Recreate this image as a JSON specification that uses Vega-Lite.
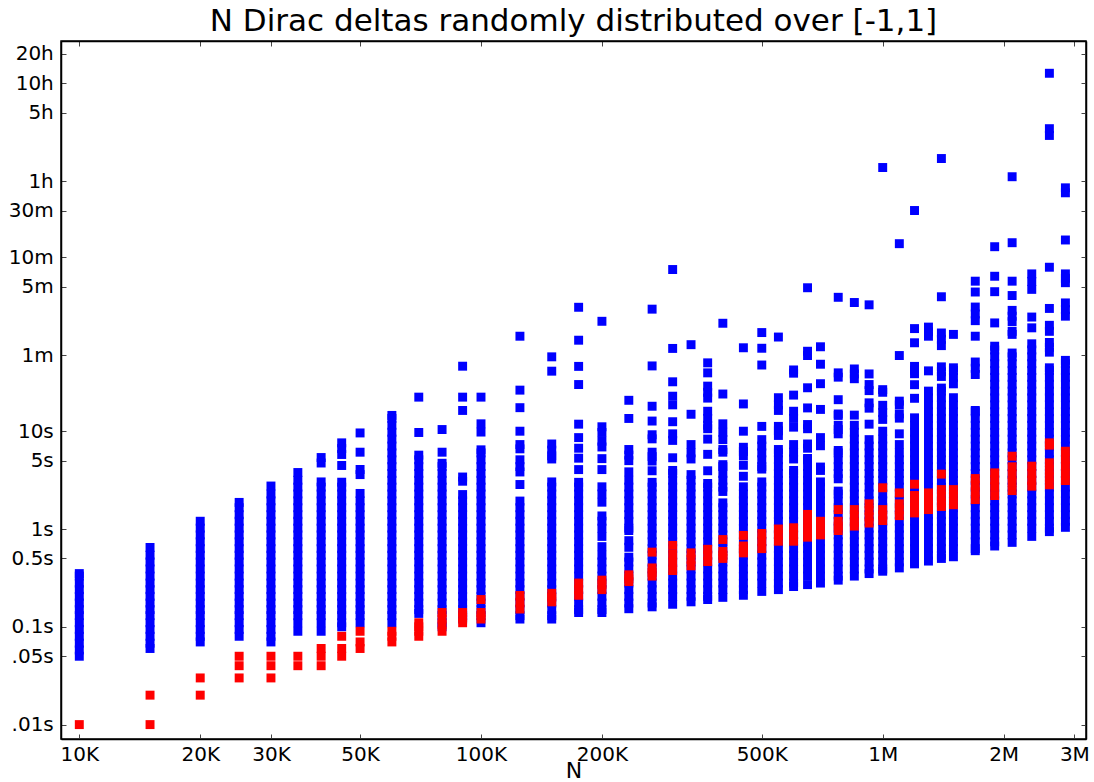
{
"$schema": "https://vega.github.io/schema/vega-lite/v6.json",
"width": 1025, "height": 698,
"autosize": "none",
"padding": {"left": 61, "top": 41, "right": 8, "bottom": 43},
"background": "white",
"title": {"text": "N Dirac deltas randomly distributed over [-1,1]", "font": "DejaVu Sans", "fontSize": 31, "fontWeight": "normal", "color": "black", "anchor": "middle", "frame": "group", "baseline": "alphabetic", "offset": -21},
"config": {"view": {"stroke": "black", "strokeWidth": 1.5}},
"datasets": {
"blue": [
{"N":10000,"t":0.05},{"N":10000,"t":0.058},{"N":10000,"t":0.068},{"N":10000,"t":0.08},{"N":10000,"t":0.094},{"N":10000,"t":0.11},{"N":10000,"t":0.13},{"N":10000,"t":0.15},{"N":10000,"t":0.175},{"N":10000,"t":0.205},{"N":10000,"t":0.24},{"N":10000,"t":0.28},{"N":10000,"t":0.33},{"N":10000,"t":0.35},
{"N":15000,"t":0.06},{"N":15000,"t":0.068},{"N":15000,"t":0.08},{"N":15000,"t":0.094},{"N":15000,"t":0.11},{"N":15000,"t":0.13},{"N":15000,"t":0.15},{"N":15000,"t":0.175},{"N":15000,"t":0.205},{"N":15000,"t":0.24},{"N":15000,"t":0.28},{"N":15000,"t":0.33},{"N":15000,"t":0.39},{"N":15000,"t":0.46},{"N":15000,"t":0.54},{"N":15000,"t":0.647},
{"N":20000,"t":0.07},{"N":20000,"t":0.08},{"N":20000,"t":0.094},{"N":20000,"t":0.11},{"N":20000,"t":0.13},{"N":20000,"t":0.15},{"N":20000,"t":0.175},{"N":20000,"t":0.205},{"N":20000,"t":0.24},{"N":20000,"t":0.28},{"N":20000,"t":0.33},{"N":20000,"t":0.39},{"N":20000,"t":0.46},{"N":20000,"t":0.54},{"N":20000,"t":0.63},{"N":20000,"t":0.74},{"N":20000,"t":0.87},{"N":20000,"t":1.02},{"N":20000,"t":1.2},
{"N":25000,"t":0.08},{"N":25000,"t":0.094},{"N":25000,"t":0.11},{"N":25000,"t":0.13},{"N":25000,"t":0.15},{"N":25000,"t":0.175},{"N":25000,"t":0.205},{"N":25000,"t":0.24},{"N":25000,"t":0.28},{"N":25000,"t":0.33},{"N":25000,"t":0.39},{"N":25000,"t":0.46},{"N":25000,"t":0.54},{"N":25000,"t":0.63},{"N":25000,"t":0.74},{"N":25000,"t":0.87},{"N":25000,"t":1.02},{"N":25000,"t":1.2},{"N":25000,"t":1.4},{"N":25000,"t":1.65},{"N":25000,"t":1.87},
{"N":30000,"t":0.07},{"N":30000,"t":0.08},{"N":30000,"t":0.094},{"N":30000,"t":0.11},{"N":30000,"t":0.13},{"N":30000,"t":0.15},{"N":30000,"t":0.175},{"N":30000,"t":0.205},{"N":30000,"t":0.24},{"N":30000,"t":0.28},{"N":30000,"t":0.33},{"N":30000,"t":0.39},{"N":30000,"t":0.46},{"N":30000,"t":0.54},{"N":30000,"t":0.63},{"N":30000,"t":0.74},{"N":30000,"t":0.87},{"N":30000,"t":1.02},{"N":30000,"t":1.2},{"N":30000,"t":1.4},{"N":30000,"t":1.65},{"N":30000,"t":1.94},{"N":30000,"t":2.28},{"N":30000,"t":2.75},
{"N":35000,"t":0.09},{"N":35000,"t":0.11},{"N":35000,"t":0.13},{"N":35000,"t":0.15},{"N":35000,"t":0.175},{"N":35000,"t":0.205},{"N":35000,"t":0.24},{"N":35000,"t":0.28},{"N":35000,"t":0.33},{"N":35000,"t":0.39},{"N":35000,"t":0.46},{"N":35000,"t":0.54},{"N":35000,"t":0.63},{"N":35000,"t":0.74},{"N":35000,"t":0.87},{"N":35000,"t":1.02},{"N":35000,"t":1.2},{"N":35000,"t":1.4},{"N":35000,"t":1.65},{"N":35000,"t":1.94},{"N":35000,"t":2.28},{"N":35000,"t":2.68},{"N":35000,"t":3.15},{"N":35000,"t":3.78},
{"N":40000,"t":5.38},{"N":40000,"t":4.73},{"N":40000,"t":0.09},{"N":40000,"t":0.11},{"N":40000,"t":0.13},{"N":40000,"t":0.15},{"N":40000,"t":0.175},{"N":40000,"t":0.205},{"N":40000,"t":0.24},{"N":40000,"t":0.28},{"N":40000,"t":0.33},{"N":40000,"t":0.39},{"N":40000,"t":0.46},{"N":40000,"t":0.54},{"N":40000,"t":0.63},{"N":40000,"t":0.74},{"N":40000,"t":0.87},{"N":40000,"t":1.02},{"N":40000,"t":1.2},{"N":40000,"t":1.4},{"N":40000,"t":1.65},{"N":40000,"t":1.94},{"N":40000,"t":2.28},{"N":40000,"t":2.68},{"N":40000,"t":3.03},
{"N":45000,"t":7.6},{"N":45000,"t":6.64},{"N":45000,"t":5.78},{"N":45000,"t":4.46},{"N":45000,"t":0.1},{"N":45000,"t":0.11},{"N":45000,"t":0.13},{"N":45000,"t":0.15},{"N":45000,"t":0.175},{"N":45000,"t":0.205},{"N":45000,"t":0.24},{"N":45000,"t":0.28},{"N":45000,"t":0.33},{"N":45000,"t":0.39},{"N":45000,"t":0.46},{"N":45000,"t":0.54},{"N":45000,"t":0.63},{"N":45000,"t":0.74},{"N":45000,"t":0.87},{"N":45000,"t":1.02},{"N":45000,"t":1.2},{"N":45000,"t":1.4},{"N":45000,"t":1.65},{"N":45000,"t":1.94},{"N":45000,"t":2.28},{"N":45000,"t":2.68},{"N":45000,"t":3.01},
{"N":50000,"t":9.6},{"N":50000,"t":6.1},{"N":50000,"t":4.06},{"N":50000,"t":3.6},{"N":50000,"t":0.11},{"N":50000,"t":0.13},{"N":50000,"t":0.15},{"N":50000,"t":0.175},{"N":50000,"t":0.205},{"N":50000,"t":0.24},{"N":50000,"t":0.28},{"N":50000,"t":0.33},{"N":50000,"t":0.39},{"N":50000,"t":0.46},{"N":50000,"t":0.54},{"N":50000,"t":0.63},{"N":50000,"t":0.74},{"N":50000,"t":0.87},{"N":50000,"t":1.02},{"N":50000,"t":1.2},{"N":50000,"t":1.4},{"N":50000,"t":1.65},{"N":50000,"t":1.94},{"N":50000,"t":2.31},
{"N":60000,"t":0.11},{"N":60000,"t":0.13},{"N":60000,"t":0.15},{"N":60000,"t":0.175},{"N":60000,"t":0.205},{"N":60000,"t":0.24},{"N":60000,"t":0.28},{"N":60000,"t":0.33},{"N":60000,"t":0.39},{"N":60000,"t":0.46},{"N":60000,"t":0.54},{"N":60000,"t":0.63},{"N":60000,"t":0.74},{"N":60000,"t":0.87},{"N":60000,"t":1.02},{"N":60000,"t":1.2},{"N":60000,"t":1.4},{"N":60000,"t":1.65},{"N":60000,"t":1.94},{"N":60000,"t":2.28},{"N":60000,"t":2.68},{"N":60000,"t":3.15},{"N":60000,"t":3.7},{"N":60000,"t":4.35},{"N":60000,"t":5.1},{"N":60000,"t":6.0},{"N":60000,"t":7.05},{"N":60000,"t":8.3},{"N":60000,"t":9.75},{"N":60000,"t":11.5},{"N":60000,"t":13.5},{"N":60000,"t":14.5},
{"N":70000,"t":22.3},{"N":70000,"t":9.7},{"N":70000,"t":0.137},{"N":70000,"t":0.15},{"N":70000,"t":0.175},{"N":70000,"t":0.205},{"N":70000,"t":0.24},{"N":70000,"t":0.28},{"N":70000,"t":0.33},{"N":70000,"t":0.39},{"N":70000,"t":0.46},{"N":70000,"t":0.54},{"N":70000,"t":0.63},{"N":70000,"t":0.74},{"N":70000,"t":0.87},{"N":70000,"t":1.02},{"N":70000,"t":1.2},{"N":70000,"t":1.4},{"N":70000,"t":1.65},{"N":70000,"t":1.94},{"N":70000,"t":2.28},{"N":70000,"t":2.68},{"N":70000,"t":3.15},{"N":70000,"t":3.7},{"N":70000,"t":4.35},{"N":70000,"t":5.1},{"N":70000,"t":5.69},
{"N":80000,"t":10.4},{"N":80000,"t":6.1},{"N":80000,"t":0.1},{"N":80000,"t":0.11},{"N":80000,"t":0.13},{"N":80000,"t":0.15},{"N":80000,"t":0.175},{"N":80000,"t":0.205},{"N":80000,"t":0.24},{"N":80000,"t":0.28},{"N":80000,"t":0.33},{"N":80000,"t":0.39},{"N":80000,"t":0.46},{"N":80000,"t":0.54},{"N":80000,"t":0.63},{"N":80000,"t":0.74},{"N":80000,"t":0.87},{"N":80000,"t":1.02},{"N":80000,"t":1.2},{"N":80000,"t":1.4},{"N":80000,"t":1.65},{"N":80000,"t":1.94},{"N":80000,"t":2.28},{"N":80000,"t":2.68},{"N":80000,"t":3.15},{"N":80000,"t":3.7},{"N":80000,"t":4.35},{"N":80000,"t":4.7},
{"N":90000,"t":46.2},{"N":90000,"t":22.3},{"N":90000,"t":16.3},{"N":90000,"t":3.4},{"N":90000,"t":3.08},{"N":90000,"t":0.12},{"N":90000,"t":0.13},{"N":90000,"t":0.15},{"N":90000,"t":0.175},{"N":90000,"t":0.205},{"N":90000,"t":0.24},{"N":90000,"t":0.28},{"N":90000,"t":0.33},{"N":90000,"t":0.39},{"N":90000,"t":0.46},{"N":90000,"t":0.54},{"N":90000,"t":0.63},{"N":90000,"t":0.74},{"N":90000,"t":0.87},{"N":90000,"t":1.02},{"N":90000,"t":1.2},{"N":90000,"t":1.4},{"N":90000,"t":1.65},{"N":90000,"t":1.94},{"N":90000,"t":2.25},
{"N":100000,"t":22.3},{"N":100000,"t":11.9},{"N":100000,"t":9.8},{"N":100000,"t":0.11},{"N":100000,"t":0.13},{"N":100000,"t":0.15},{"N":100000,"t":0.175},{"N":100000,"t":0.205},{"N":100000,"t":0.24},{"N":100000,"t":0.28},{"N":100000,"t":0.33},{"N":100000,"t":0.39},{"N":100000,"t":0.46},{"N":100000,"t":0.54},{"N":100000,"t":0.63},{"N":100000,"t":0.74},{"N":100000,"t":0.87},{"N":100000,"t":1.02},{"N":100000,"t":1.2},{"N":100000,"t":1.4},{"N":100000,"t":1.65},{"N":100000,"t":1.94},{"N":100000,"t":2.28},{"N":100000,"t":2.68},{"N":100000,"t":3.15},{"N":100000,"t":3.7},{"N":100000,"t":4.35},{"N":100000,"t":5.1},{"N":100000,"t":6.0},{"N":100000,"t":6.45},
{"N":125000,"t":93.6},{"N":125000,"t":26.3},{"N":125000,"t":17.4},{"N":125000,"t":10.0},{"N":125000,"t":7.3},{"N":125000,"t":6.6},{"N":125000,"t":5.1},{"N":125000,"t":4.35},{"N":125000,"t":3.83},{"N":125000,"t":2.85},{"N":125000,"t":0.12},{"N":125000,"t":0.13},{"N":125000,"t":0.15},{"N":125000,"t":0.175},{"N":125000,"t":0.205},{"N":125000,"t":0.24},{"N":125000,"t":0.28},{"N":125000,"t":0.33},{"N":125000,"t":0.39},{"N":125000,"t":0.46},{"N":125000,"t":0.54},{"N":125000,"t":0.63},{"N":125000,"t":0.74},{"N":125000,"t":0.87},{"N":125000,"t":1.02},{"N":125000,"t":1.2},{"N":125000,"t":1.4},{"N":125000,"t":1.65},{"N":125000,"t":1.93},
{"N":150000,"t":57.6},{"N":150000,"t":41.1},{"N":150000,"t":7.4},{"N":150000,"t":6.4},{"N":150000,"t":5.6},{"N":150000,"t":5.2},{"N":150000,"t":0.12},{"N":150000,"t":0.13},{"N":150000,"t":0.15},{"N":150000,"t":0.175},{"N":150000,"t":0.205},{"N":150000,"t":0.24},{"N":150000,"t":0.28},{"N":150000,"t":0.33},{"N":150000,"t":0.39},{"N":150000,"t":0.46},{"N":150000,"t":0.54},{"N":150000,"t":0.63},{"N":150000,"t":0.74},{"N":150000,"t":0.87},{"N":150000,"t":1.02},{"N":150000,"t":1.2},{"N":150000,"t":1.4},{"N":150000,"t":1.65},{"N":150000,"t":1.94},{"N":150000,"t":2.28},{"N":150000,"t":2.68},{"N":150000,"t":3.03},
{"N":175000,"t":185},{"N":175000,"t":85.2},{"N":175000,"t":46},{"N":175000,"t":30},{"N":175000,"t":11.8},{"N":175000,"t":8.6},{"N":175000,"t":6.7},{"N":175000,"t":5.3},{"N":175000,"t":4.05},{"N":175000,"t":0.14},{"N":175000,"t":0.15},{"N":175000,"t":0.175},{"N":175000,"t":0.205},{"N":175000,"t":0.24},{"N":175000,"t":0.28},{"N":175000,"t":0.33},{"N":175000,"t":0.39},{"N":175000,"t":0.46},{"N":175000,"t":0.54},{"N":175000,"t":0.63},{"N":175000,"t":0.74},{"N":175000,"t":0.87},{"N":175000,"t":1.02},{"N":175000,"t":1.2},{"N":175000,"t":1.4},{"N":175000,"t":1.65},{"N":175000,"t":1.94},{"N":175000,"t":2.28},{"N":175000,"t":2.68},{"N":175000,"t":3.0},
{"N":200000,"t":133},{"N":200000,"t":11.1},{"N":200000,"t":9.7},{"N":200000,"t":7.9},{"N":200000,"t":6.9},{"N":200000,"t":5.24},{"N":200000,"t":4.05},{"N":200000,"t":2.7},{"N":200000,"t":2.28},{"N":200000,"t":1.88},{"N":200000,"t":1.36},{"N":200000,"t":1.2},{"N":200000,"t":1.02},{"N":200000,"t":0.84},{"N":200000,"t":0.66},{"N":200000,"t":0.54},{"N":200000,"t":0.46},{"N":200000,"t":0.39},{"N":200000,"t":0.33},{"N":200000,"t":0.28},{"N":200000,"t":0.24},{"N":200000,"t":0.205},{"N":200000,"t":0.175},{"N":200000,"t":0.15},{"N":200000,"t":0.14},
{"N":233333,"t":20.7},{"N":233333,"t":13.5},{"N":233333,"t":6.5},{"N":233333,"t":5.7},{"N":233333,"t":5.0},{"N":233333,"t":3.84},{"N":233333,"t":3.15},{"N":233333,"t":2.68},{"N":233333,"t":2.28},{"N":233333,"t":1.94},{"N":233333,"t":1.65},{"N":233333,"t":1.4},{"N":233333,"t":1.2},{"N":233333,"t":1.02},{"N":233333,"t":0.965},{"N":233333,"t":0.76},{"N":233333,"t":0.65},{"N":233333,"t":0.515},{"N":233333,"t":0.46},{"N":233333,"t":0.39},{"N":233333,"t":0.33},{"N":233333,"t":0.28},{"N":233333,"t":0.24},{"N":233333,"t":0.205},{"N":233333,"t":0.175},{"N":233333,"t":0.153},
{"N":266667,"t":177},{"N":266667,"t":46.5},{"N":266667,"t":18},{"N":266667,"t":12.7},{"N":266667,"t":9.2},{"N":266667,"t":8.35},{"N":266667,"t":6.1},{"N":266667,"t":5.5},{"N":266667,"t":4.95},{"N":266667,"t":3.94},{"N":266667,"t":3.0},{"N":266667,"t":2.68},{"N":266667,"t":2.28},{"N":266667,"t":1.94},{"N":266667,"t":1.65},{"N":266667,"t":1.4},{"N":266667,"t":1.2},{"N":266667,"t":1.02},{"N":266667,"t":0.87},{"N":266667,"t":0.74},{"N":266667,"t":0.63},{"N":266667,"t":0.54},{"N":266667,"t":0.46},{"N":266667,"t":0.39},{"N":266667,"t":0.33},{"N":266667,"t":0.28},{"N":266667,"t":0.24},{"N":266667,"t":0.205},{"N":266667,"t":0.175},{"N":266667,"t":0.16},
{"N":300000,"t":450},{"N":300000,"t":70.2},{"N":300000,"t":32},{"N":300000,"t":22.8},{"N":300000,"t":18.6},{"N":300000,"t":12.5},{"N":300000,"t":9.4},{"N":300000,"t":8.05},{"N":300000,"t":5.35},{"N":300000,"t":3.97},{"N":300000,"t":3.7},{"N":300000,"t":3.15},{"N":300000,"t":2.68},{"N":300000,"t":2.28},{"N":300000,"t":1.94},{"N":300000,"t":1.65},{"N":300000,"t":1.4},{"N":300000,"t":1.2},{"N":300000,"t":1.02},{"N":300000,"t":0.87},{"N":300000,"t":0.74},{"N":300000,"t":0.63},{"N":300000,"t":0.54},{"N":300000,"t":0.46},{"N":300000,"t":0.39},{"N":300000,"t":0.33},{"N":300000,"t":0.28},{"N":300000,"t":0.24},{"N":300000,"t":0.205},{"N":300000,"t":0.17},
{"N":333333,"t":76.7},{"N":333333,"t":14.9},{"N":333333,"t":7.3},{"N":333333,"t":6.0},{"N":333333,"t":5.2},{"N":333333,"t":3.6},{"N":333333,"t":3.15},{"N":333333,"t":2.68},{"N":333333,"t":2.28},{"N":333333,"t":1.94},{"N":333333,"t":1.65},{"N":333333,"t":1.4},{"N":333333,"t":1.2},{"N":333333,"t":1.02},{"N":333333,"t":0.87},{"N":333333,"t":0.74},{"N":333333,"t":0.63},{"N":333333,"t":0.54},{"N":333333,"t":0.46},{"N":333333,"t":0.39},{"N":333333,"t":0.33},{"N":333333,"t":0.28},{"N":333333,"t":0.24},{"N":333333,"t":0.205},{"N":333333,"t":0.18},
{"N":366667,"t":50},{"N":366667,"t":39.5},{"N":366667,"t":28.9},{"N":366667,"t":25.0},{"N":366667,"t":21.8},{"N":366667,"t":16},{"N":366667,"t":13.5},{"N":366667,"t":11.5},{"N":366667,"t":10.6},{"N":366667,"t":8.3},{"N":366667,"t":5.8},{"N":366667,"t":3.94},{"N":366667,"t":2.92},{"N":366667,"t":2.68},{"N":366667,"t":2.28},{"N":366667,"t":1.94},{"N":366667,"t":1.65},{"N":366667,"t":1.4},{"N":366667,"t":1.2},{"N":366667,"t":1.02},{"N":366667,"t":0.87},{"N":366667,"t":0.74},{"N":366667,"t":0.63},{"N":366667,"t":0.54},{"N":366667,"t":0.46},{"N":366667,"t":0.39},{"N":366667,"t":0.33},{"N":366667,"t":0.28},{"N":366667,"t":0.24},{"N":366667,"t":0.205},{"N":366667,"t":0.19},
{"N":400000,"t":127},{"N":400000,"t":24},{"N":400000,"t":11.9},{"N":400000,"t":9.75},{"N":400000,"t":8.2},{"N":400000,"t":6.5},{"N":400000,"t":6.1},{"N":400000,"t":4.55},{"N":400000,"t":4.35},{"N":400000,"t":3.7},{"N":400000,"t":3.15},{"N":400000,"t":2.68},{"N":400000,"t":2.42},{"N":400000,"t":1.85},{"N":400000,"t":1.65},{"N":400000,"t":1.4},{"N":400000,"t":1.2},{"N":400000,"t":1.02},{"N":400000,"t":0.87},{"N":400000,"t":0.74},{"N":400000,"t":0.63},{"N":400000,"t":0.54},{"N":400000,"t":0.46},{"N":400000,"t":0.39},{"N":400000,"t":0.33},{"N":400000,"t":0.28},{"N":400000,"t":0.24},{"N":400000,"t":0.2},
{"N":450000,"t":71.3},{"N":450000,"t":19},{"N":450000,"t":10},{"N":450000,"t":6.85},{"N":450000,"t":6.2},{"N":450000,"t":5.6},{"N":450000,"t":4.48},{"N":450000,"t":3.46},{"N":450000,"t":2.7},{"N":450000,"t":2.28},{"N":450000,"t":1.94},{"N":450000,"t":1.65},{"N":450000,"t":1.4},{"N":450000,"t":1.2},{"N":450000,"t":1.02},{"N":450000,"t":0.87},{"N":450000,"t":0.74},{"N":450000,"t":0.63},{"N":450000,"t":0.54},{"N":450000,"t":0.46},{"N":450000,"t":0.39},{"N":450000,"t":0.33},{"N":450000,"t":0.28},{"N":450000,"t":0.24},{"N":450000,"t":0.21},
{"N":500000,"t":102},{"N":500000,"t":70.5},{"N":500000,"t":47.5},{"N":500000,"t":11.2},{"N":500000,"t":8.2},{"N":500000,"t":7.05},{"N":500000,"t":6.0},{"N":500000,"t":5.1},{"N":500000,"t":4.35},{"N":500000,"t":4.1},{"N":500000,"t":3.03},{"N":500000,"t":2.68},{"N":500000,"t":2.28},{"N":500000,"t":1.94},{"N":500000,"t":1.65},{"N":500000,"t":1.4},{"N":500000,"t":1.2},{"N":500000,"t":1.02},{"N":500000,"t":0.87},{"N":500000,"t":0.74},{"N":500000,"t":0.63},{"N":500000,"t":0.54},{"N":500000,"t":0.46},{"N":500000,"t":0.39},{"N":500000,"t":0.33},{"N":500000,"t":0.28},{"N":500000,"t":0.23},
{"N":550000,"t":91.8},{"N":550000,"t":22},{"N":550000,"t":18.6},{"N":550000,"t":16.3},{"N":550000,"t":11.2},{"N":550000,"t":10.1},{"N":550000,"t":9.05},{"N":550000,"t":6.5},{"N":550000,"t":6.0},{"N":550000,"t":5.1},{"N":550000,"t":4.35},{"N":550000,"t":3.7},{"N":550000,"t":3.15},{"N":550000,"t":2.68},{"N":550000,"t":2.28},{"N":550000,"t":1.94},{"N":550000,"t":1.65},{"N":550000,"t":1.4},{"N":550000,"t":1.2},{"N":550000,"t":1.02},{"N":550000,"t":0.87},{"N":550000,"t":0.74},{"N":550000,"t":0.63},{"N":550000,"t":0.54},{"N":550000,"t":0.46},{"N":550000,"t":0.39},{"N":550000,"t":0.33},{"N":550000,"t":0.28},{"N":550000,"t":0.24},
{"N":600000,"t":42.3},{"N":600000,"t":39.2},{"N":600000,"t":23.4},{"N":600000,"t":16},{"N":600000,"t":13.5},{"N":600000,"t":11},{"N":600000,"t":7.3},{"N":600000,"t":6.1},{"N":600000,"t":5.2},{"N":600000,"t":3.97},{"N":600000,"t":3.7},{"N":600000,"t":3.15},{"N":600000,"t":2.68},{"N":600000,"t":2.28},{"N":600000,"t":1.94},{"N":600000,"t":1.65},{"N":600000,"t":1.4},{"N":600000,"t":1.2},{"N":600000,"t":1.02},{"N":600000,"t":0.87},{"N":600000,"t":0.74},{"N":600000,"t":0.63},{"N":600000,"t":0.54},{"N":600000,"t":0.46},{"N":600000,"t":0.39},{"N":600000,"t":0.33},{"N":600000,"t":0.28},{"N":600000,"t":0.258},
{"N":650000,"t":293},{"N":650000,"t":65.7},{"N":650000,"t":59.4},{"N":650000,"t":27.8},{"N":650000,"t":17.3},{"N":650000,"t":11.7},{"N":650000,"t":10.6},{"N":650000,"t":7.4},{"N":650000,"t":6.7},{"N":650000,"t":5.26},{"N":650000,"t":5.1},{"N":650000,"t":4.35},{"N":650000,"t":3.7},{"N":650000,"t":3.15},{"N":650000,"t":2.68},{"N":650000,"t":2.28},{"N":650000,"t":1.94},{"N":650000,"t":1.65},{"N":650000,"t":1.4},{"N":650000,"t":1.2},{"N":650000,"t":1.02},{"N":650000,"t":0.87},{"N":650000,"t":0.74},{"N":650000,"t":0.63},{"N":650000,"t":0.54},{"N":650000,"t":0.46},{"N":650000,"t":0.39},{"N":650000,"t":0.33},{"N":650000,"t":0.27},
{"N":700000,"t":73},{"N":700000,"t":48.4},{"N":700000,"t":30.6},{"N":700000,"t":16.7},{"N":700000,"t":8.6},{"N":700000,"t":7.1},{"N":700000,"t":4.3},{"N":700000,"t":3.97},{"N":700000,"t":3.03},{"N":700000,"t":2.68},{"N":700000,"t":2.28},{"N":700000,"t":1.94},{"N":700000,"t":1.65},{"N":700000,"t":1.4},{"N":700000,"t":1.2},{"N":700000,"t":1.02},{"N":700000,"t":0.87},{"N":700000,"t":0.74},{"N":700000,"t":0.63},{"N":700000,"t":0.54},{"N":700000,"t":0.46},{"N":700000,"t":0.39},{"N":700000,"t":0.33},{"N":700000,"t":0.28},
{"N":775000,"t":234},{"N":775000,"t":39.5},{"N":775000,"t":35.7},{"N":775000,"t":21},{"N":775000,"t":15},{"N":775000,"t":14.5},{"N":775000,"t":11.5},{"N":775000,"t":10.4},{"N":775000,"t":9.4},{"N":775000,"t":6.35},{"N":775000,"t":6.0},{"N":775000,"t":5.1},{"N":775000,"t":4.35},{"N":775000,"t":3.7},{"N":775000,"t":3.26},{"N":775000,"t":2.44},{"N":775000,"t":2.28},{"N":775000,"t":1.94},{"N":775000,"t":1.65},{"N":775000,"t":1.4},{"N":775000,"t":1.2},{"N":775000,"t":1.02},{"N":775000,"t":0.87},{"N":775000,"t":0.74},{"N":775000,"t":0.63},{"N":775000,"t":0.54},{"N":775000,"t":0.46},{"N":775000,"t":0.39},{"N":775000,"t":0.33},{"N":775000,"t":0.3},
{"N":850000,"t":207},{"N":850000,"t":43.3},{"N":850000,"t":38.5},{"N":850000,"t":34.4},{"N":850000,"t":14.6},{"N":850000,"t":11.5},{"N":850000,"t":9.75},{"N":850000,"t":8.3},{"N":850000,"t":7.05},{"N":850000,"t":6.0},{"N":850000,"t":5.1},{"N":850000,"t":4.35},{"N":850000,"t":3.7},{"N":850000,"t":3.15},{"N":850000,"t":2.68},{"N":850000,"t":2.28},{"N":850000,"t":1.94},{"N":850000,"t":1.65},{"N":850000,"t":1.4},{"N":850000,"t":1.2},{"N":850000,"t":1.02},{"N":850000,"t":0.87},{"N":850000,"t":0.74},{"N":850000,"t":0.63},{"N":850000,"t":0.54},{"N":850000,"t":0.46},{"N":850000,"t":0.39},{"N":850000,"t":0.33},
{"N":925000,"t":196},{"N":925000,"t":38.5},{"N":925000,"t":30},{"N":925000,"t":26},{"N":925000,"t":19.5},{"N":925000,"t":17.2},{"N":925000,"t":11.8},{"N":925000,"t":8.2},{"N":925000,"t":7.05},{"N":925000,"t":6.0},{"N":925000,"t":5.1},{"N":925000,"t":4.35},{"N":925000,"t":3.7},{"N":925000,"t":3.15},{"N":925000,"t":2.68},{"N":925000,"t":2.28},{"N":925000,"t":1.94},{"N":925000,"t":1.65},{"N":925000,"t":1.4},{"N":925000,"t":1.2},{"N":925000,"t":1.02},{"N":925000,"t":0.87},{"N":925000,"t":0.74},{"N":925000,"t":0.63},{"N":925000,"t":0.54},{"N":925000,"t":0.46},{"N":925000,"t":0.39},{"N":925000,"t":0.35},
{"N":1000000,"t":4970},{"N":1000000,"t":26.6},{"N":1000000,"t":25},{"N":1000000,"t":18.4},{"N":1000000,"t":15.5},{"N":1000000,"t":13.2},{"N":1000000,"t":10},{"N":1000000,"t":8.3},{"N":1000000,"t":7.05},{"N":1000000,"t":6.0},{"N":1000000,"t":5.1},{"N":1000000,"t":4.35},{"N":1000000,"t":3.7},{"N":1000000,"t":3.15},{"N":1000000,"t":2.68},{"N":1000000,"t":2.28},{"N":1000000,"t":1.94},{"N":1000000,"t":1.65},{"N":1000000,"t":1.4},{"N":1000000,"t":1.2},{"N":1000000,"t":1.02},{"N":1000000,"t":0.87},{"N":1000000,"t":0.74},{"N":1000000,"t":0.63},{"N":1000000,"t":0.54},{"N":1000000,"t":0.46},{"N":1000000,"t":0.39},{"N":1000000,"t":0.37},
{"N":1100000,"t":827},{"N":1100000,"t":59.4},{"N":1100000,"t":20.3},{"N":1100000,"t":18.6},{"N":1100000,"t":15},{"N":1100000,"t":13.6},{"N":1100000,"t":9.4},{"N":1100000,"t":7.3},{"N":1100000,"t":6.0},{"N":1100000,"t":5.1},{"N":1100000,"t":4.35},{"N":1100000,"t":3.7},{"N":1100000,"t":3.15},{"N":1100000,"t":2.68},{"N":1100000,"t":2.28},{"N":1100000,"t":1.94},{"N":1100000,"t":1.65},{"N":1100000,"t":1.4},{"N":1100000,"t":1.2},{"N":1100000,"t":1.02},{"N":1100000,"t":0.87},{"N":1100000,"t":0.74},{"N":1100000,"t":0.63},{"N":1100000,"t":0.54},{"N":1100000,"t":0.46},{"N":1100000,"t":0.4},
{"N":1200000,"t":1806},{"N":1200000,"t":112},{"N":1200000,"t":80.2},{"N":1200000,"t":46},{"N":1200000,"t":42},{"N":1200000,"t":38.7},{"N":1200000,"t":29.9},{"N":1200000,"t":21.7},{"N":1200000,"t":13.7},{"N":1200000,"t":11.5},{"N":1200000,"t":9.75},{"N":1200000,"t":8.3},{"N":1200000,"t":7.05},{"N":1200000,"t":6.0},{"N":1200000,"t":5.1},{"N":1200000,"t":4.35},{"N":1200000,"t":3.7},{"N":1200000,"t":3.15},{"N":1200000,"t":2.68},{"N":1200000,"t":2.28},{"N":1200000,"t":1.94},{"N":1200000,"t":1.65},{"N":1200000,"t":1.4},{"N":1200000,"t":1.2},{"N":1200000,"t":1.02},{"N":1200000,"t":0.87},{"N":1200000,"t":0.74},{"N":1200000,"t":0.63},{"N":1200000,"t":0.54},{"N":1200000,"t":0.46},{"N":1200000,"t":0.44},
{"N":1300000,"t":116},{"N":1300000,"t":104},{"N":1300000,"t":93.6},{"N":1300000,"t":41.4},{"N":1300000,"t":25.7},{"N":1300000,"t":21.9},{"N":1300000,"t":18.6},{"N":1300000,"t":15.8},{"N":1300000,"t":13.5},{"N":1300000,"t":11.5},{"N":1300000,"t":9.75},{"N":1300000,"t":8.3},{"N":1300000,"t":7.05},{"N":1300000,"t":6.0},{"N":1300000,"t":5.1},{"N":1300000,"t":4.35},{"N":1300000,"t":3.7},{"N":1300000,"t":3.15},{"N":1300000,"t":2.68},{"N":1300000,"t":2.28},{"N":1300000,"t":1.94},{"N":1300000,"t":1.65},{"N":1300000,"t":1.4},{"N":1300000,"t":1.2},{"N":1300000,"t":1.02},{"N":1300000,"t":0.87},{"N":1300000,"t":0.74},{"N":1300000,"t":0.63},{"N":1300000,"t":0.54},{"N":1300000,"t":0.47},
{"N":1400000,"t":6140},{"N":1400000,"t":237},{"N":1400000,"t":101},{"N":1400000,"t":87},{"N":1400000,"t":75},{"N":1400000,"t":45.5},{"N":1400000,"t":40.5},{"N":1400000,"t":36.3},{"N":1400000,"t":27.6},{"N":1400000,"t":25.7},{"N":1400000,"t":21.9},{"N":1400000,"t":18.6},{"N":1400000,"t":15.8},{"N":1400000,"t":13.5},{"N":1400000,"t":11.5},{"N":1400000,"t":9.75},{"N":1400000,"t":8.3},{"N":1400000,"t":7.05},{"N":1400000,"t":6.0},{"N":1400000,"t":5.1},{"N":1400000,"t":4.35},{"N":1400000,"t":3.7},{"N":1400000,"t":3.15},{"N":1400000,"t":2.68},{"N":1400000,"t":2.28},{"N":1400000,"t":1.94},{"N":1400000,"t":1.65},{"N":1400000,"t":1.4},{"N":1400000,"t":1.2},{"N":1400000,"t":1.02},{"N":1400000,"t":0.87},{"N":1400000,"t":0.74},{"N":1400000,"t":0.63},{"N":1400000,"t":0.54},{"N":1400000,"t":0.5},
{"N":1500000,"t":97.7},{"N":1500000,"t":44.5},{"N":1500000,"t":41.7},{"N":1500000,"t":35.5},{"N":1500000,"t":30.5},{"N":1500000,"t":22},{"N":1500000,"t":18.6},{"N":1500000,"t":15.8},{"N":1500000,"t":13.5},{"N":1500000,"t":11.5},{"N":1500000,"t":9.75},{"N":1500000,"t":8.3},{"N":1500000,"t":7.05},{"N":1500000,"t":6.0},{"N":1500000,"t":5.1},{"N":1500000,"t":4.35},{"N":1500000,"t":3.7},{"N":1500000,"t":3.15},{"N":1500000,"t":2.68},{"N":1500000,"t":2.28},{"N":1500000,"t":1.94},{"N":1500000,"t":1.65},{"N":1500000,"t":1.4},{"N":1500000,"t":1.2},{"N":1500000,"t":1.02},{"N":1500000,"t":0.87},{"N":1500000,"t":0.74},{"N":1500000,"t":0.63},{"N":1500000,"t":0.52},
{"N":1700000,"t":342},{"N":1700000,"t":265},{"N":1700000,"t":186},{"N":1700000,"t":158},{"N":1700000,"t":135},{"N":1700000,"t":93.6},{"N":1700000,"t":51},{"N":1700000,"t":44},{"N":1700000,"t":38},{"N":1700000,"t":16.3},{"N":1700000,"t":15.8},{"N":1700000,"t":13.5},{"N":1700000,"t":11.5},{"N":1700000,"t":9.75},{"N":1700000,"t":8.3},{"N":1700000,"t":7.05},{"N":1700000,"t":6.0},{"N":1700000,"t":5.1},{"N":1700000,"t":4.35},{"N":1700000,"t":3.7},{"N":1700000,"t":3.15},{"N":1700000,"t":2.68},{"N":1700000,"t":2.28},{"N":1700000,"t":1.94},{"N":1700000,"t":1.65},{"N":1700000,"t":1.4},{"N":1700000,"t":1.2},{"N":1700000,"t":1.02},{"N":1700000,"t":0.87},{"N":1700000,"t":0.74},{"N":1700000,"t":0.63},{"N":1700000,"t":0.6},
{"N":1900000,"t":770},{"N":1900000,"t":384},{"N":1900000,"t":267},{"N":1900000,"t":128},{"N":1900000,"t":74},{"N":1900000,"t":67.7},{"N":1900000,"t":57.6},{"N":1900000,"t":49},{"N":1900000,"t":41.7},{"N":1900000,"t":35.5},{"N":1900000,"t":30.2},{"N":1900000,"t":25.7},{"N":1900000,"t":21.9},{"N":1900000,"t":18.6},{"N":1900000,"t":15.8},{"N":1900000,"t":13.5},{"N":1900000,"t":11.5},{"N":1900000,"t":9.75},{"N":1900000,"t":8.3},{"N":1900000,"t":7.05},{"N":1900000,"t":6.0},{"N":1900000,"t":5.1},{"N":1900000,"t":4.35},{"N":1900000,"t":3.7},{"N":1900000,"t":3.15},{"N":1900000,"t":2.68},{"N":1900000,"t":2.28},{"N":1900000,"t":1.94},{"N":1900000,"t":1.65},{"N":1900000,"t":1.4},{"N":1900000,"t":1.2},{"N":1900000,"t":1.02},{"N":1900000,"t":0.87},{"N":1900000,"t":0.74},{"N":1900000,"t":0.67},
{"N":2100000,"t":4000},{"N":2100000,"t":846},{"N":2100000,"t":342},{"N":2100000,"t":244},{"N":2100000,"t":172},{"N":2100000,"t":150},{"N":2100000,"t":132},{"N":2100000,"t":105},{"N":2100000,"t":97.7},{"N":2100000,"t":63},{"N":2100000,"t":57.6},{"N":2100000,"t":49},{"N":2100000,"t":41.7},{"N":2100000,"t":35.5},{"N":2100000,"t":30.2},{"N":2100000,"t":25.7},{"N":2100000,"t":21.9},{"N":2100000,"t":18.6},{"N":2100000,"t":15.8},{"N":2100000,"t":13.5},{"N":2100000,"t":11.5},{"N":2100000,"t":9.75},{"N":2100000,"t":8.3},{"N":2100000,"t":7.05},{"N":2100000,"t":6.0},{"N":2100000,"t":5.1},{"N":2100000,"t":4.35},{"N":2100000,"t":3.7},{"N":2100000,"t":3.15},{"N":2100000,"t":2.68},{"N":2100000,"t":2.28},{"N":2100000,"t":1.94},{"N":2100000,"t":1.65},{"N":2100000,"t":1.4},{"N":2100000,"t":1.2},{"N":2100000,"t":1.02},{"N":2100000,"t":0.87},{"N":2100000,"t":0.73},
{"N":2350000,"t":406},{"N":2350000,"t":340},{"N":2350000,"t":282},{"N":2350000,"t":147},{"N":2350000,"t":114},{"N":2350000,"t":78.3},{"N":2350000,"t":67.7},{"N":2350000,"t":57.6},{"N":2350000,"t":49},{"N":2350000,"t":41.7},{"N":2350000,"t":35.5},{"N":2350000,"t":30.2},{"N":2350000,"t":25.7},{"N":2350000,"t":21.9},{"N":2350000,"t":18.6},{"N":2350000,"t":15.8},{"N":2350000,"t":13.5},{"N":2350000,"t":11.5},{"N":2350000,"t":9.75},{"N":2350000,"t":8.3},{"N":2350000,"t":7.05},{"N":2350000,"t":6.0},{"N":2350000,"t":5.1},{"N":2350000,"t":4.35},{"N":2350000,"t":3.7},{"N":2350000,"t":3.15},{"N":2350000,"t":2.68},{"N":2350000,"t":2.28},{"N":2350000,"t":1.94},{"N":2350000,"t":1.65},{"N":2350000,"t":1.4},{"N":2350000,"t":1.2},{"N":2350000,"t":1.02},{"N":2350000,"t":0.84},
{"N":2600000,"t":45700},{"N":2600000,"t":12400},{"N":2600000,"t":10570},{"N":2600000,"t":475},{"N":2600000,"t":180},{"N":2600000,"t":121},{"N":2600000,"t":105},{"N":2600000,"t":80.8},{"N":2600000,"t":72},{"N":2600000,"t":64.3},{"N":2600000,"t":44.5},{"N":2600000,"t":41.7},{"N":2600000,"t":35.5},{"N":2600000,"t":30.2},{"N":2600000,"t":25.7},{"N":2600000,"t":21.9},{"N":2600000,"t":18.6},{"N":2600000,"t":15.8},{"N":2600000,"t":13.5},{"N":2600000,"t":11.5},{"N":2600000,"t":9.75},{"N":2600000,"t":8.3},{"N":2600000,"t":7.05},{"N":2600000,"t":6.0},{"N":2600000,"t":5.1},{"N":2600000,"t":4.35},{"N":2600000,"t":3.7},{"N":2600000,"t":3.15},{"N":2600000,"t":2.68},{"N":2600000,"t":2.28},{"N":2600000,"t":1.94},{"N":2600000,"t":1.65},{"N":2600000,"t":1.4},{"N":2600000,"t":1.2},{"N":2600000,"t":1.02},{"N":2600000,"t":0.94},
{"N":2850000,"t":3080},{"N":2850000,"t":2740},{"N":2850000,"t":902},{"N":2850000,"t":406},{"N":2850000,"t":366},{"N":2850000,"t":330},{"N":2850000,"t":205},{"N":2850000,"t":175},{"N":2850000,"t":150},{"N":2850000,"t":53},{"N":2850000,"t":49},{"N":2850000,"t":41.7},{"N":2850000,"t":35.5},{"N":2850000,"t":30.2},{"N":2850000,"t":25.7},{"N":2850000,"t":21.9},{"N":2850000,"t":18.6},{"N":2850000,"t":15.8},{"N":2850000,"t":13.5},{"N":2850000,"t":11.5},{"N":2850000,"t":9.75},{"N":2850000,"t":8.3},{"N":2850000,"t":7.05},{"N":2850000,"t":6.0},{"N":2850000,"t":5.1},{"N":2850000,"t":4.35},{"N":2850000,"t":3.7},{"N":2850000,"t":3.15},{"N":2850000,"t":2.68},{"N":2850000,"t":2.28},{"N":2850000,"t":1.94},{"N":2850000,"t":1.65},{"N":2850000,"t":1.4},{"N":2850000,"t":1.2},{"N":2850000,"t":1.04}
],
"red": [
{"N":10000,"t":0.01},
{"N":15000,"t":0.02},{"N":15000,"t":0.01},
{"N":20000,"t":0.03},{"N":20000,"t":0.02},
{"N":25000,"t":0.05},{"N":25000,"t":0.04},{"N":25000,"t":0.03},
{"N":30000,"t":0.05},{"N":30000,"t":0.04},{"N":30000,"t":0.03},
{"N":35000,"t":0.05},{"N":35000,"t":0.04},
{"N":40000,"t":0.06},{"N":40000,"t":0.05},{"N":40000,"t":0.04},
{"N":45000,"t":0.08},{"N":45000,"t":0.06},{"N":45000,"t":0.05},
{"N":50000,"t":0.09},{"N":50000,"t":0.07},{"N":50000,"t":0.06},
{"N":60000,"t":0.09},{"N":60000,"t":0.08},{"N":60000,"t":0.07},
{"N":70000,"t":0.11},{"N":70000,"t":0.1},{"N":70000,"t":0.09},{"N":70000,"t":0.08},
{"N":80000,"t":0.14},{"N":80000,"t":0.12},{"N":80000,"t":0.105},{"N":80000,"t":0.09},
{"N":90000,"t":0.14},{"N":90000,"t":0.125},{"N":90000,"t":0.11},
{"N":100000,"t":0.19},{"N":100000,"t":0.14},{"N":100000,"t":0.13},{"N":100000,"t":0.12},
{"N":125000,"t":0.209},{"N":125000,"t":0.178},{"N":125000,"t":0.152},
{"N":150000,"t":0.22},{"N":150000,"t":0.2},{"N":150000,"t":0.18},
{"N":175000,"t":0.28},{"N":175000,"t":0.24},{"N":175000,"t":0.21},
{"N":200000,"t":0.3},{"N":200000,"t":0.27},{"N":200000,"t":0.24},
{"N":233333,"t":0.34},{"N":233333,"t":0.31},{"N":233333,"t":0.29},
{"N":266667,"t":0.58},{"N":266667,"t":0.4},{"N":266667,"t":0.36},{"N":266667,"t":0.33},
{"N":300000,"t":0.68},{"N":300000,"t":0.55},{"N":300000,"t":0.455},{"N":300000,"t":0.376},
{"N":333333,"t":0.57},{"N":333333,"t":0.49},{"N":333333,"t":0.42},
{"N":366667,"t":0.62},{"N":366667,"t":0.54},{"N":366667,"t":0.465},
{"N":400000,"t":0.78},{"N":400000,"t":0.59},{"N":400000,"t":0.54},{"N":400000,"t":0.5},
{"N":450000,"t":0.86},{"N":450000,"t":0.67},{"N":450000,"t":0.62},{"N":450000,"t":0.57},
{"N":500000,"t":0.9},{"N":500000,"t":0.75},{"N":500000,"t":0.63},
{"N":550000,"t":1.0},{"N":550000,"t":0.87},{"N":550000,"t":0.75},
{"N":600000,"t":1.03},{"N":600000,"t":0.88},{"N":600000,"t":0.75},
{"N":650000,"t":1.41},{"N":650000,"t":1.18},{"N":650000,"t":0.99},{"N":650000,"t":0.825},
{"N":700000,"t":1.2},{"N":700000,"t":1.0},{"N":700000,"t":0.87},
{"N":775000,"t":1.58},{"N":775000,"t":1.2},{"N":775000,"t":1.07},{"N":775000,"t":0.965},
{"N":850000,"t":1.58},{"N":850000,"t":1.35},{"N":850000,"t":1.17},{"N":850000,"t":1.07},
{"N":925000,"t":1.81},{"N":925000,"t":1.55},{"N":925000,"t":1.33},{"N":925000,"t":1.15},
{"N":1000000,"t":2.64},{"N":1000000,"t":1.58},{"N":1000000,"t":1.38},{"N":1000000,"t":1.22},
{"N":1100000,"t":2.34},{"N":1100000,"t":1.81},{"N":1100000,"t":1.57},{"N":1100000,"t":1.37},
{"N":1200000,"t":2.87},{"N":1200000,"t":2.2},{"N":1200000,"t":1.9},{"N":1200000,"t":1.67},{"N":1200000,"t":1.46},
{"N":1300000,"t":2.34},{"N":1300000,"t":2.0},{"N":1300000,"t":1.75},{"N":1300000,"t":1.58},
{"N":1400000,"t":3.64},{"N":1400000,"t":2.53},{"N":1400000,"t":2.15},{"N":1400000,"t":1.85},{"N":1400000,"t":1.7},
{"N":1500000,"t":2.53},{"N":1500000,"t":2.15},{"N":1500000,"t":1.77},
{"N":1700000,"t":3.28},{"N":1700000,"t":2.8},{"N":1700000,"t":2.4},{"N":1700000,"t":2.0},
{"N":1900000,"t":3.75},{"N":1900000,"t":3.2},{"N":1900000,"t":2.7},{"N":1900000,"t":2.2},
{"N":2100000,"t":5.55},{"N":2100000,"t":4.33},{"N":2100000,"t":3.6},{"N":2100000,"t":3.0},{"N":2100000,"t":2.47},
{"N":2350000,"t":4.39},{"N":2350000,"t":3.7},{"N":2350000,"t":3.15},{"N":2350000,"t":2.74},
{"N":2600000,"t":7.6},{"N":2600000,"t":7.2},{"N":2600000,"t":4.75},{"N":2600000,"t":4.0},{"N":2600000,"t":3.4},{"N":2600000,"t":2.83},
{"N":2850000,"t":6.24},{"N":2850000,"t":5.2},{"N":2850000,"t":4.4},{"N":2850000,"t":3.7},{"N":2850000,"t":3.13}
]
},
"layer": [
{"data": {"name": "blue"},
 "mark": {"type": "point", "shape": "square", "filled": true, "size": 80, "color": "#0000ff", "opacity": 1, "strokeWidth": 0},
 "encoding": {
  "x": {"field": "N", "type": "quantitative",
        "scale": {"type": "log", "domain": [9004, 3207000], "nice": false},
        "axis": {"orient": "bottom", "values": [10000,20000,30000,50000,100000,200000,500000,1000000,2000000,3000000],
                 "labelExpr": "datum.value >= 1000000 ? (datum.value/1000000) + 'M' : (datum.value/1000) + 'K'",
                 "title": "N", "titleFont": "DejaVu Sans", "titleFontSize": 22, "titleFontWeight": "normal", "titleColor": "black", "titleBaseline": "alphabetic", "titleY": 38,
                 "labelFont": "DejaVu Sans", "labelFontSize": 20, "labelColor": "black", "labelPadding": 10, "labelOverlap": false, "labelFlush": false,
                 "tickSize": -5, "tickColor": "#444444", "tickWidth": 1, "domainColor": "black", "domainWidth": 1.5, "grid": false}},
  "y": {"field": "t", "type": "quantitative",
        "scale": {"type": "log", "domain": [0.007124, 97700], "nice": false},
        "axis": {"orient": "left", "values": [0.01,0.05,0.1,0.5,1,5,10,60,300,600,1800,3600,18000,36000,72000],
                 "labelExpr": "['.01s','.05s','0.1s','0.5s','1s','5s','10s','1m','5m','10m','30m','1h','5h','10h','20h'][indexof([0.01,0.05,0.1,0.5,1,5,10,60,300,600,1800,3600,18000,36000,72000], datum.value)]",
                 "title": null, "labelFont": "DejaVu Sans", "labelFontSize": 20, "labelColor": "black", "labelPadding": 12.7, "labelOverlap": false, "labelFlush": false,
                 "tickSize": -5, "tickColor": "#444444", "tickWidth": 1, "domainColor": "black", "domainWidth": 1.5, "grid": false}}
 }},
{"data": {"name": "red"},
 "mark": {"type": "point", "shape": "square", "filled": true, "size": 80, "color": "#ff0000", "opacity": 1, "strokeWidth": 0},
 "encoding": {
  "x": {"field": "N", "type": "quantitative",
        "scale": {"type": "log", "domain": [9004, 3207000], "nice": false},
        "axis": {"orient": "top", "values": [10000,20000,30000,50000,100000,200000,500000,1000000,2000000,3000000],
                 "labels": false, "title": null, "tickSize": -5, "tickColor": "#444444", "tickWidth": 1, "domainColor": "black", "domainWidth": 1.5, "grid": false}},
  "y": {"field": "t", "type": "quantitative",
        "scale": {"type": "log", "domain": [0.007124, 97700], "nice": false},
        "axis": {"orient": "right", "values": [0.01,0.05,0.1,0.5,1,5,10,60,300,600,1800,3600,18000,36000,72000],
                 "labels": false, "title": null, "tickSize": -5, "tickColor": "#444444", "tickWidth": 1, "domainColor": "black", "domainWidth": 1.5, "grid": false}}
 }}
],
"resolve": {"axis": {"x": "independent", "y": "independent"}}
}
